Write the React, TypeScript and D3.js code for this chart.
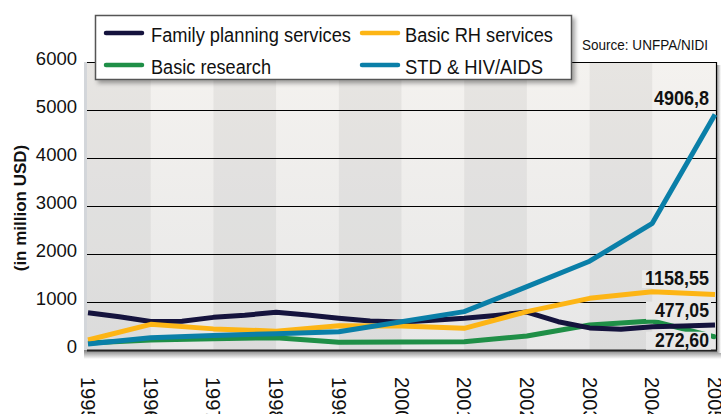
import React from 'react';
import * as d3 from 'd3';

// ---------- data ----------
const years = [1995, 1996, 1997, 1998, 1999, 2000, 2001, 2002, 2003, 2004, 2005];
const fpYears = [1995, 1995.5, 1996, 1996.5, 1997, 1997.5, 1998, 1998.5, 1999, 1999.5, 2000, 2000.5, 2001, 2001.5, 2002, 2002.5, 2003, 2003.5, 2004, 2004.5, 2005];
const familyPlanning = [777, 694, 595, 600, 680, 725, 785, 729, 660, 604, 585, 620, 660, 720, 790, 590, 460, 430, 486, 500, 521];
const basicRH = [208, 535, 440, 392, 507, 500, 451, 799, 1076, 1215, 1158.55];
const stdHiv = [125, 257, 300, 340, 382, 590, 799, 1319, 1850, 2640, 4906.8];
const basicResearch = [145, 208, 235, 257, 160, 165, 170, 292, 521, 604, 272.6];
const yTicks = [0, 1000, 2000, 3000, 4000, 5000, 6000];
const seriesNames = ['Family planning services', 'Basic RH services', 'Basic research', 'STD & HIV/AIDS'];
const endLabels = ['4906,8', '1158,55', '477,05', '272,60'];
const endValues = [4906.8, 1158.55, 477.05, 272.6];
const yTitle = '(in million USD)';
const sourceText = 'Source: UNFPA/NIDI';

// ---------- styles / layout ----------
const W = 721, H = 414;
const colors = { fp: '#15133d', rh: '#fdb515', res: '#1f8f47', std: '#0a7fa8' };
const X0 = 88, X1 = 715, Y0 = 350, Y1 = 62;
const PANEL_L = 87, PANEL_R = 717;
const FONT = 'Liberation Sans, Arial, sans-serif';

export default function App() {
  const x = d3.scaleLinear().domain([1995, 2005]).range([X0, X1]);
  const y = d3.scaleLinear().domain([0, 6000]).range([Y0, Y1]);
  const line = d3.line<[number, number]>().x(d => x(d[0])).y(d => y(d[1]));

  const zip = (xs: number[], vs: number[]) => xs.map((v, i) => [v, vs[i]] as [number, number]);
  const series = [
    { key: 'res', data: zip(years, basicResearch), color: colors.res },
    { key: 'fp', data: zip(fpYears, familyPlanning), color: colors.fp },
    { key: 'rh', data: zip(years, basicRH), color: colors.rh },
    { key: 'std', data: zip(years, stdHiv), color: colors.std },
  ];

  const bands = years.slice(0, -1).map((yr, i) => ({ x0: i === 0 ? PANEL_L : x(yr), x1: i === years.length - 2 ? PANEL_R : x(years[i + 1]), dark: i % 2 === 0 }));

  const labelDy = [-9.5, -9.4, -10.4, 9.8];
  const labelW = [58, 66, 62, 62];
  const legendLayout = [
    { lx: 106, ly: 33, tx: 151, tw: 200 },
    { lx: 362, ly: 33, tx: 405, tw: 148 },
    { lx: 106, ly: 65, tx: 151, tw: 120 },
    { lx: 362, ly: 65, tx: 405, tw: 138 },
  ];
  const legendColors = [colors.fp, colors.rh, colors.res, colors.std];

  return (
    <div style={{ position: 'fixed', left: 0, top: 0 }}>
      <svg width={W} height={H} style={{ display: 'block', background: '#fff' }}>
        <defs>
          <linearGradient id="panelGrad" gradientUnits="userSpaceOnUse" x1="0" y1={Y1} x2="0" y2={Y0}>
            <stop offset="0" stopColor="#f4f2ef" />
            <stop offset="1" stopColor="#e7e7e7" />
          </linearGradient>
          <linearGradient id="shadowGrad" x1="0" y1="0" x2="0" y2="1">
            <stop offset="0" stopColor="#7c7c7c" />
            <stop offset="1" stopColor="#ffffff" />
          </linearGradient>
          <linearGradient id="shadowGradR" x1="0" y1="0" x2="1" y2="0">
            <stop offset="0" stopColor="#9a9a9a" />
            <stop offset="1" stopColor="#ffffff" />
          </linearGradient>
          <filter id="legShadow" x="-5%" y="-20%" width="115%" height="160%">
            <feDropShadow dx="3" dy="3" stdDeviation="2" floodColor="#000" floodOpacity="0.35" />
          </filter>
        </defs>

        {/* panel shadows */}
        <rect x={PANEL_L - 3} y={Y0} width={PANEL_R - PANEL_L + 7} height={9} fill="url(#shadowGrad)" />
        <rect x={PANEL_R} y={Y1 + 3} width={4} height={Y0 - Y1} fill="url(#shadowGradR)" />
        <rect x={PANEL_L - 3} y={Y1} width={3} height={Y0 - Y1} fill="#d3d6da" />

        {/* panel */}
        <rect x={PANEL_L} y={Y1} width={PANEL_R - PANEL_L} height={Y0 - Y1} fill="url(#panelGrad)" />
        {bands.filter(b => b.dark).map((b, i) => (
          <rect key={i} x={b.x0} y={Y1} width={b.x1 - b.x0} height={Y0 - Y1} fill="#000" fillOpacity={0.05} />
        ))}

        {/* gridlines */}
        {yTicks.filter(t => t > 0 && t < 6000).map(t => (
          <line key={t} x1={PANEL_L} x2={PANEL_R} y1={Math.round(y(t)) + 0.5} y2={Math.round(y(t)) + 0.5} stroke="#000" strokeWidth={1} />
        ))}
        <line x1={PANEL_L} x2={PANEL_R} y1={Y1 + 0.5} y2={Y1 + 0.5} stroke="#000" strokeWidth={1} />
        <line x1={PANEL_R - 0.5} x2={PANEL_R - 0.5} y1={Y1} y2={Y0} stroke="#000" strokeWidth={1.2} />
        <line x1={PANEL_L} x2={PANEL_R} y1={Y0 + 0.5} y2={Y0 + 0.5} stroke="#222" strokeWidth={2} />

        {/* y tick labels */}
        {yTicks.map(t => (
          <text key={t} x={77} y={y(t) + 3} textAnchor="end" fontFamily={FONT} fontSize={18.5} fill="#111">{t}</text>
        ))}
        <text transform={`translate(26,208) rotate(-90)`} textAnchor="middle" fontFamily={FONT} fontWeight="bold" fontSize={17} fill="#111">{yTitle}</text>

        {/* x tick labels */}
        {years.map(yr => (
          <text key={yr} transform={`translate(${x(yr) - 7},377) rotate(90)`} fontFamily={FONT} fontSize={20} fill="#111">{yr}</text>
        ))}

        {/* lines */}
        {series.map(s => (
          <path key={s.key} d={line(s.data) || ''} fill="none" stroke={s.color} strokeWidth={5} strokeLinejoin="round" strokeLinecap="butt" />
        ))}

        {/* end labels */}
        {endLabels.map((lab, i) => (
          <g key={lab}>
            {i > 0 && (
              <rect x={710 - labelW[i] - 2} y={y(endValues[i]) + labelDy[i] - 15} width={labelW[i] + 3} height={18} fill="url(#panelGrad)" />
            )}
            <text x={709} y={y(endValues[i]) + labelDy[i]} textAnchor="end" fontFamily={FONT} fontWeight="bold" fontSize={20} fill="#111"
              textLength={i === 0 ? 55 : i === 1 ? 64 : 54} lengthAdjust="spacingAndGlyphs">{lab}</text>
          </g>
        ))}
        <circle cx={x(2005) - 1} cy={y(basicResearch[basicResearch.length - 1])} r={2.3} fill={colors.res} />

        {/* legend */}
        <rect x={95.5} y={15.5} width={476} height={64} fill="#fff" stroke="#555" strokeWidth={1.5} filter="url(#legShadow)" />
        {seriesNames.map((n, i) => {
          const L = legendLayout[i];
          return (
            <g key={n}>
              <line x1={L.lx} x2={L.lx + 36} y1={L.ly} y2={L.ly} stroke={legendColors[i]} strokeWidth={4.5} strokeLinecap="round" />
              <text x={L.tx} y={L.ly + 8.5} fontFamily={FONT} fontSize={20} fill="#111" textLength={L.tw} lengthAdjust="spacingAndGlyphs">{n}</text>
            </g>
          );
        })}

        {/* source */}
        <text x={582} y={50} fontFamily={FONT} fontSize={15.5} fill="#111" textLength={126} lengthAdjust="spacingAndGlyphs">{sourceText}</text>
      </svg>
    </div>
  );
}
